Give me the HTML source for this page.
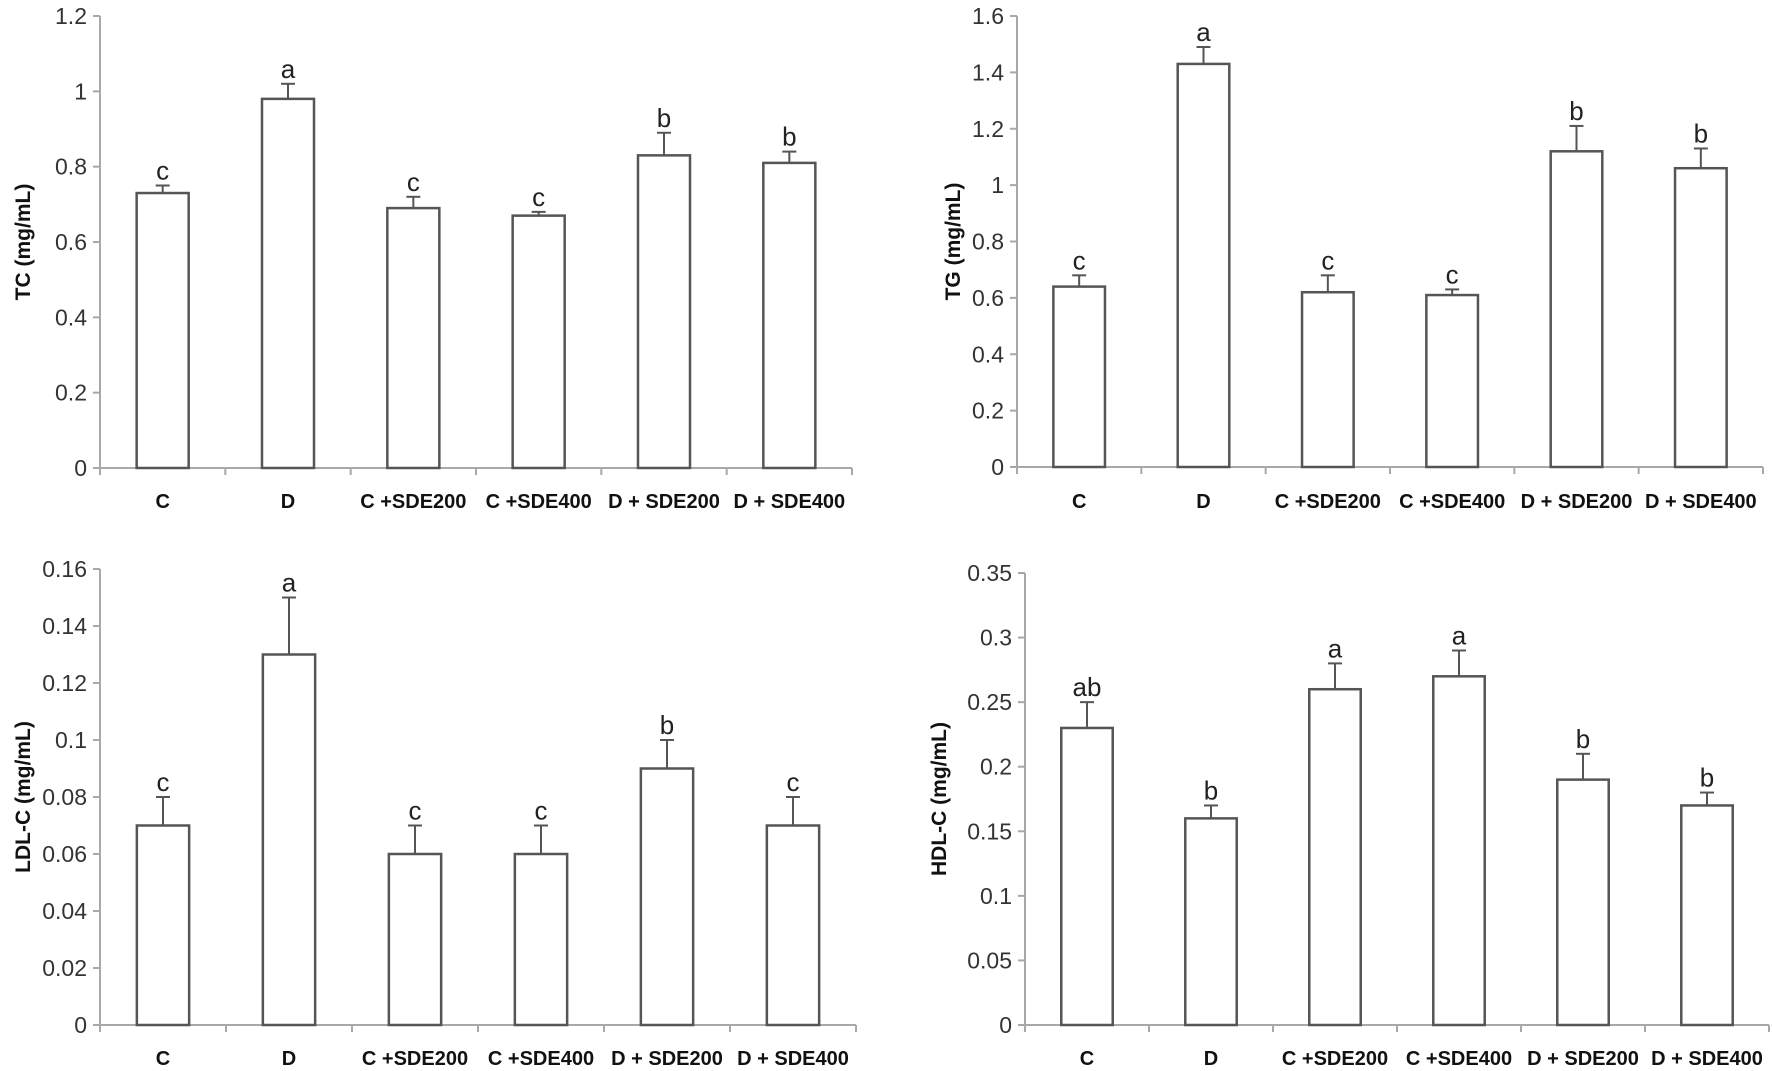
<!DOCTYPE html>
<html><head><meta charset="utf-8"><style>
html,body{margin:0;padding:0;background:#fff;}
svg{display:block;}
text{font-family:"Liberation Sans",sans-serif;}
</style></head><body>
<svg id="chart" width="1772" height="1071"></svg>
<script>
const categories = ["C","D","C +SDE200","C +SDE400","D + SDE200","D + SDE400"];
const tcValues = [0.73,0.98,0.69,0.67,0.83,0.81];
const tcErrors = [0.02,0.04,0.03,0.01,0.06,0.03];
const tcLetters = ["c","a","c","c","b","b"];
const tcTicks = ["0","0.2","0.4","0.6","0.8","1","1.2"];
const tgValues = [0.64,1.43,0.62,0.61,1.12,1.06];
const tgErrors = [0.04,0.06,0.06,0.02,0.09,0.07];
const tgLetters = ["c","a","c","c","b","b"];
const tgTicks = ["0","0.2","0.4","0.6","0.8","1","1.2","1.4","1.6"];
const ldlValues = [0.07,0.13,0.06,0.06,0.09,0.07];
const ldlErrors = [0.01,0.02,0.01,0.01,0.01,0.01];
const ldlLetters = ["c","a","c","c","b","c"];
const ldlTicks = ["0","0.02","0.04","0.06","0.08","0.1","0.12","0.14","0.16"];
const hdlValues = [0.23,0.16,0.26,0.27,0.19,0.17];
const hdlErrors = [0.02,0.01,0.02,0.02,0.02,0.01];
const hdlLetters = ["ab","b","a","a","b","b"];
const hdlTicks = ["0","0.05","0.1","0.15","0.2","0.25","0.3","0.35"];

const NS="http://www.w3.org/2000/svg";
const svg=document.getElementById('chart');
function mk(tag,attrs,parent){const e=document.createElementNS(NS,tag);for(const k in attrs)e.setAttribute(k,attrs[k]);(parent||svg).appendChild(e);return e;}

function panel(key,title,vals,errs,letters,ticks,g){
  const grp=mk('g',{});
  
  
  const maxV=parseFloat(ticks[ticks.length-1]);
  const y=v=>g.y0-(v/maxV)*(g.y0-g.yTop);
  const cw=(g.x1-g.x0)/categories.length;
  const x=i=>g.x0+cw*(i+0.5);
  const axisC="#a8a8a8";
  const ya=mk('line',{x1:g.x0,y1:g.yTop,x2:g.x0,y2:g.y0,stroke:axisC,'stroke-width':2},grp);
  
  
  const xa=mk('line',{x1:g.x0,y1:g.y0,x2:g.x1,y2:g.y0,stroke:axisC,'stroke-width':2},grp);
  
  
  ticks.forEach(t=>{
    const v=parseFloat(t),yy=y(v);
    mk('line',{x1:g.x0-7,y1:yy,x2:g.x0,y2:yy,stroke:axisC,'stroke-width':2},grp);
    const tl=mk('text',{x:g.x0-13,y:yy+8,'text-anchor':'end','font-size':23,fill:'#333'},grp);
    tl.textContent=t;
    
    
  });
  for(let i=0;i<=categories.length;i++){
    const xx=g.x0+cw*i;
    mk('line',{x1:xx,y1:g.y0,x2:xx,y2:g.y0+7,stroke:axisC,'stroke-width':2},grp);
  }
  const bw=cw*0.415;
  categories.forEach((c,i)=>{
    const top=y(vals[i]);
    const r=mk('rect',{x:x(i)-bw/2,y:top,width:bw,height:g.y0-top,fill:'#fff',stroke:'#555','stroke-width':2.5},grp);
    
    
    const et=y(vals[i]+errs[i]);
    mk('line',{x1:x(i),y1:top,x2:x(i),y2:et,stroke:'#555','stroke-width':2},grp);
    const cap=mk('line',{x1:x(i)-7,y1:et,x2:x(i)+7,y2:et,stroke:'#555','stroke-width':2},grp);
    
    
    const lt=mk('text',{x:x(i),y:et-6,'text-anchor':'middle','font-size':26,fill:'#222'},grp);
    lt.textContent=letters[i];
    
    
    const cl=mk('text',{x:x(i),y:g.labelY,'text-anchor':'middle','font-size':20,'font-weight':'bold',fill:'#111'},grp);
    cl.textContent=c;
    
    
  });
  const my=(g.yTop+g.y0)/2;
  const tt=mk('text',{x:g.titleX,y:my,'text-anchor':'middle','font-size':21,'font-weight':'bold',fill:'#111',transform:`rotate(-90 ${g.titleX} ${my})`},grp);
  tt.textContent=title;
  
  
}
panel('tc','TC (mg/mL)',tcValues,tcErrors,tcLetters,tcTicks,{x0:100,x1:852,yTop:16,y0:468,labelY:508,titleX:30});
panel('tg','TG (mg/mL)',tgValues,tgErrors,tgLetters,tgTicks,{x0:1017,x1:1763,yTop:16,y0:467,labelY:508,titleX:960});
panel('ldl','LDL-C (mg/mL)',ldlValues,ldlErrors,ldlLetters,ldlTicks,{x0:100,x1:856,yTop:569,y0:1025,labelY:1065,titleX:30});
panel('hdl','HDL-C (mg/mL)',hdlValues,hdlErrors,hdlLetters,hdlTicks,{x0:1025,x1:1769,yTop:573,y0:1025,labelY:1065,titleX:946});
</script>
</body></html>
